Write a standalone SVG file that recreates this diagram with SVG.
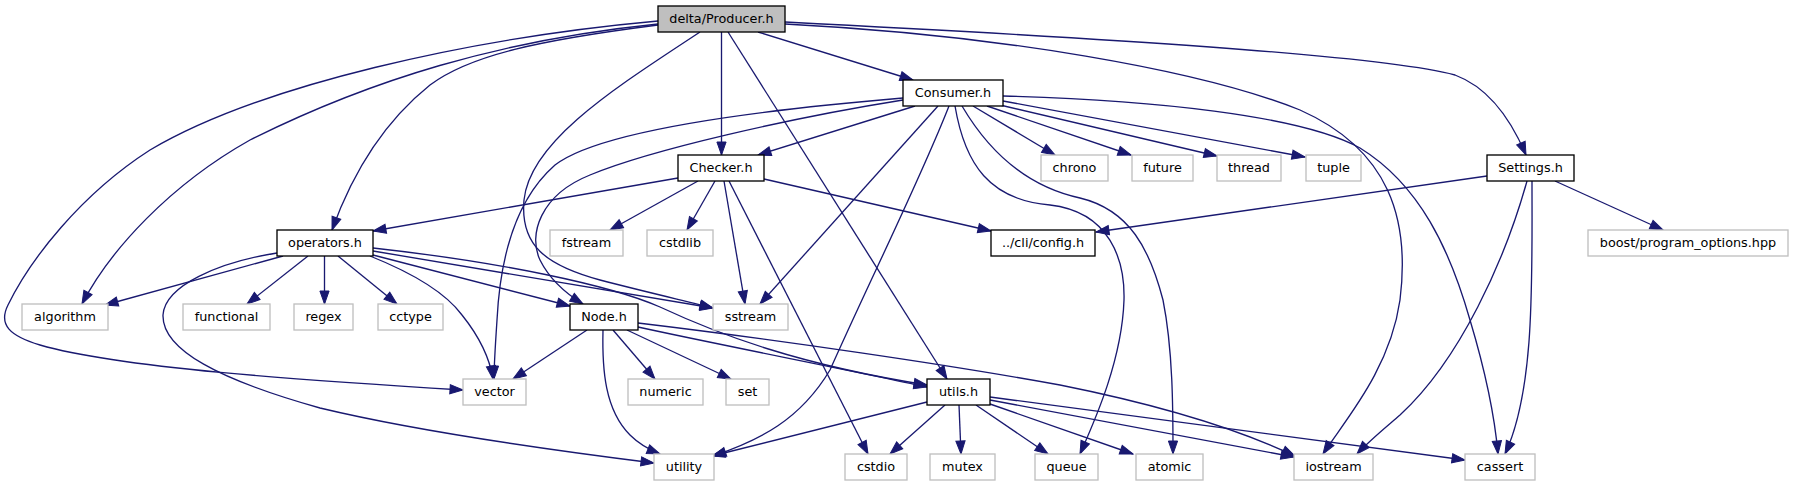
<svg xmlns="http://www.w3.org/2000/svg" width="1793" height="485" viewBox="0 0 1793 485">
<style>
.n{fill:#ffffff;stroke:#000000;stroke-width:1.33}
.s{fill:#ffffff;stroke:#bfbfbf;stroke-width:1.33}
.r{fill:#bfbfbf;stroke:#000000;stroke-width:1.33}
.t{font-family:"DejaVu Sans",sans-serif;font-size:12.8px;fill:#000000;text-anchor:middle}
.e{fill:none;stroke:#191970;stroke-width:1.33;marker-end:url(#a)}
</style>
<defs>
<marker id="a" markerWidth="14" markerHeight="10" refX="13" refY="5" orient="auto" markerUnits="userSpaceOnUse" overflow="visible">
<path d="M0,0.4 L13,5 L0,9.6 z" fill="#191970" stroke="#191970" stroke-width="1"/>
</marker>
</defs>
<rect width="1793" height="485" fill="#ffffff"/>
<g id="edges">
<path class="e" d="M658,21 C470,38 260,85 150,150 C80,195 30,260 8,305 C-2,325 10,336 40,345 C120,368 300,380 463,390"/>
<path class="e" d="M658,24 C500,40 370,80 250,140 C170,185 110,250 82,304"/>
<path class="e" d="M658,25 C540,40 470,55 430,85 C380,125 350,180 332,230"/>
<path class="e" d="M700,32 C620,85 530,140 524,200 C520,245 545,265 600,280 C650,293 690,302 713,308"/>
<path class="e" d="M721.5,32 L721.5,155"/>
<path class="e" d="M728,32 L947,379"/>
<path class="e" d="M758,32 L913,80"/>
<path class="e" d="M785,22 C1100,38 1380,55 1455,75 C1490,88 1512,122 1526,155"/>
<path class="e" d="M785,24 C1000,35 1200,70 1300,110 C1390,150 1410,220 1400,300 C1390,370 1345,420 1323,454"/>
<path class="e" d="M915,106 L758,155"/>
<path class="e" d="M903,98 C760,110 600,130 555,165 C515,200 500,260 497,320 C495,350 494,365 494,379"/>
<path class="e" d="M903,100 C790,118 650,150 590,175 C540,195 528,235 540,260 C550,280 565,293 583,304"/>
<path class="e" d="M938,106 L760,304"/>
<path class="e" d="M949,106 C920,180 870,280 830,370 C800,420 760,440 713,456"/>
<path class="e" d="M955,106 C965,165 990,200 1050,205 C1110,212 1125,260 1124,300 C1122,360 1095,420 1080,454"/>
<path class="e" d="M962,106 C985,145 1020,185 1080,198 C1130,210 1150,250 1163,300 C1173,350 1173,410 1173,454"/>
<path class="e" d="M973,106 L1055,155"/>
<path class="e" d="M987,106 L1131,155"/>
<path class="e" d="M1000,105 L1217,156"/>
<path class="e" d="M1003,101 L1305,157"/>
<path class="e" d="M1003,96 C1150,100 1300,115 1360,148 C1420,185 1450,250 1470,320 C1485,370 1495,420 1498,454"/>
<path class="e" d="M678,178 L373,231"/>
<path class="e" d="M698,181 L610,230"/>
<path class="e" d="M715,181 L687,230"/>
<path class="e" d="M724,181 L745,304"/>
<path class="e" d="M729,181 L868,454"/>
<path class="e" d="M764,179 L991,231"/>
<path class="e" d="M1487,176 L1096,232"/>
<path class="e" d="M1555,181 L1663,230"/>
<path class="e" d="M1527,181 C1505,260 1460,360 1400,415 C1385,428 1370,440 1357,454"/>
<path class="e" d="M1532,181 C1532,280 1535,390 1505,454"/>
<path class="e" d="M283,256 L105,305"/>
<path class="e" d="M308,256 L247,304"/>
<path class="e" d="M324.5,256 L324.5,304"/>
<path class="e" d="M338,256 L397,304"/>
<path class="e" d="M370,256 C410,272 445,292 462,315 C482,340 490,360 493,379"/>
<path class="e" d="M373,255 L570,306"/>
<path class="e" d="M373,251 L713,308"/>
<path class="e" d="M373,248 C500,262 610,285 660,307 C720,335 800,365 927,385"/>
<path class="e" d="M277,253 C220,262 165,285 163,315 C162,350 220,380 320,408 C420,432 550,450 654,463"/>
<path class="e" d="M587,330 L513,379"/>
<path class="e" d="M613,330 L655,379"/>
<path class="e" d="M627,330 L731,379"/>
<path class="e" d="M603,330 C602,370 605,410 630,435 C640,445 650,450 660,454"/>
<path class="e" d="M638,327 C720,345 850,370 927,387"/>
<path class="e" d="M638,323 C780,340 950,365 1060,385 C1160,405 1240,430 1295,456"/>
<path class="e" d="M927,402 L712,456"/>
<path class="e" d="M945,405 L890,454"/>
<path class="e" d="M959,405 L961,454"/>
<path class="e" d="M976,405 L1048,454"/>
<path class="e" d="M990,404 L1133,454"/>
<path class="e" d="M990,400 L1294,457"/>
<path class="e" d="M990,397 L1465,460"/>
</g>
<g id="node-producer"><rect class="r" x="658" y="6" width="127" height="26"/><text class="t" x="721.5" y="23">delta/Producer.h</text></g>
<g id="node-consumer"><rect class="n" x="903" y="80" width="100" height="26"/><text class="t" x="953" y="97">Consumer.h</text></g>
<g id="node-checker"><rect class="n" x="678" y="155" width="86" height="26"/><text class="t" x="721" y="172">Checker.h</text></g>
<g id="node-chrono"><rect class="s" x="1041" y="155" width="67" height="26"/><text class="t" x="1074.5" y="172">chrono</text></g>
<g id="node-future"><rect class="s" x="1132" y="155" width="61" height="26"/><text class="t" x="1162.5" y="172">future</text></g>
<g id="node-thread"><rect class="s" x="1217" y="155" width="64" height="26"/><text class="t" x="1249" y="172">thread</text></g>
<g id="node-tuple"><rect class="s" x="1306" y="155" width="55" height="26"/><text class="t" x="1333.5" y="172">tuple</text></g>
<g id="node-settings"><rect class="n" x="1487" y="155" width="87" height="26"/><text class="t" x="1530.5" y="172">Settings.h</text></g>
<g id="node-operators"><rect class="n" x="277" y="230" width="96" height="26"/><text class="t" x="325" y="247">operators.h</text></g>
<g id="node-fstream"><rect class="s" x="550" y="230" width="73" height="26"/><text class="t" x="586.5" y="247">fstream</text></g>
<g id="node-cstdlib"><rect class="s" x="647" y="230" width="66" height="26"/><text class="t" x="680" y="247">cstdlib</text></g>
<g id="node-config"><rect class="n" x="991" y="230" width="104" height="26"/><text class="t" x="1043" y="247">../cli/config.h</text></g>
<g id="node-boost"><rect class="s" x="1588" y="230" width="200" height="26"/><text class="t" x="1688" y="247">boost/program_options.hpp</text></g>
<g id="node-algorithm"><rect class="s" x="22" y="304" width="86" height="26"/><text class="t" x="65" y="321">algorithm</text></g>
<g id="node-functional"><rect class="s" x="183" y="304" width="87" height="26"/><text class="t" x="226.5" y="321">functional</text></g>
<g id="node-regex"><rect class="s" x="294" y="304" width="59" height="26"/><text class="t" x="323.5" y="321">regex</text></g>
<g id="node-cctype"><rect class="s" x="378" y="304" width="65" height="26"/><text class="t" x="410.5" y="321">cctype</text></g>
<g id="node-node"><rect class="n" x="570" y="304" width="68" height="26"/><text class="t" x="604" y="321">Node.h</text></g>
<g id="node-sstream"><rect class="s" x="713" y="304" width="75" height="26"/><text class="t" x="750.5" y="321">sstream</text></g>
<g id="node-vector"><rect class="s" x="463" y="379" width="63" height="26"/><text class="t" x="494.5" y="396">vector</text></g>
<g id="node-numeric"><rect class="s" x="628" y="379" width="75" height="26"/><text class="t" x="665.5" y="396">numeric</text></g>
<g id="node-set"><rect class="s" x="726" y="379" width="43" height="26"/><text class="t" x="747.5" y="396">set</text></g>
<g id="node-utils"><rect class="n" x="927" y="379" width="63" height="26"/><text class="t" x="958.5" y="396">utils.h</text></g>
<g id="node-utility"><rect class="s" x="654" y="454" width="60" height="26"/><text class="t" x="684" y="471">utility</text></g>
<g id="node-cstdio"><rect class="s" x="845" y="454" width="62" height="26"/><text class="t" x="876" y="471">cstdio</text></g>
<g id="node-mutex"><rect class="s" x="930" y="454" width="65" height="26"/><text class="t" x="962.5" y="471">mutex</text></g>
<g id="node-queue"><rect class="s" x="1035" y="454" width="63" height="26"/><text class="t" x="1066.5" y="471">queue</text></g>
<g id="node-atomic"><rect class="s" x="1136" y="454" width="67" height="26"/><text class="t" x="1169.5" y="471">atomic</text></g>
<g id="node-iostream"><rect class="s" x="1294" y="454" width="79" height="26"/><text class="t" x="1333.5" y="471">iostream</text></g>
<g id="node-cassert"><rect class="s" x="1465" y="454" width="70" height="26"/><text class="t" x="1500" y="471">cassert</text></g>
</svg>
